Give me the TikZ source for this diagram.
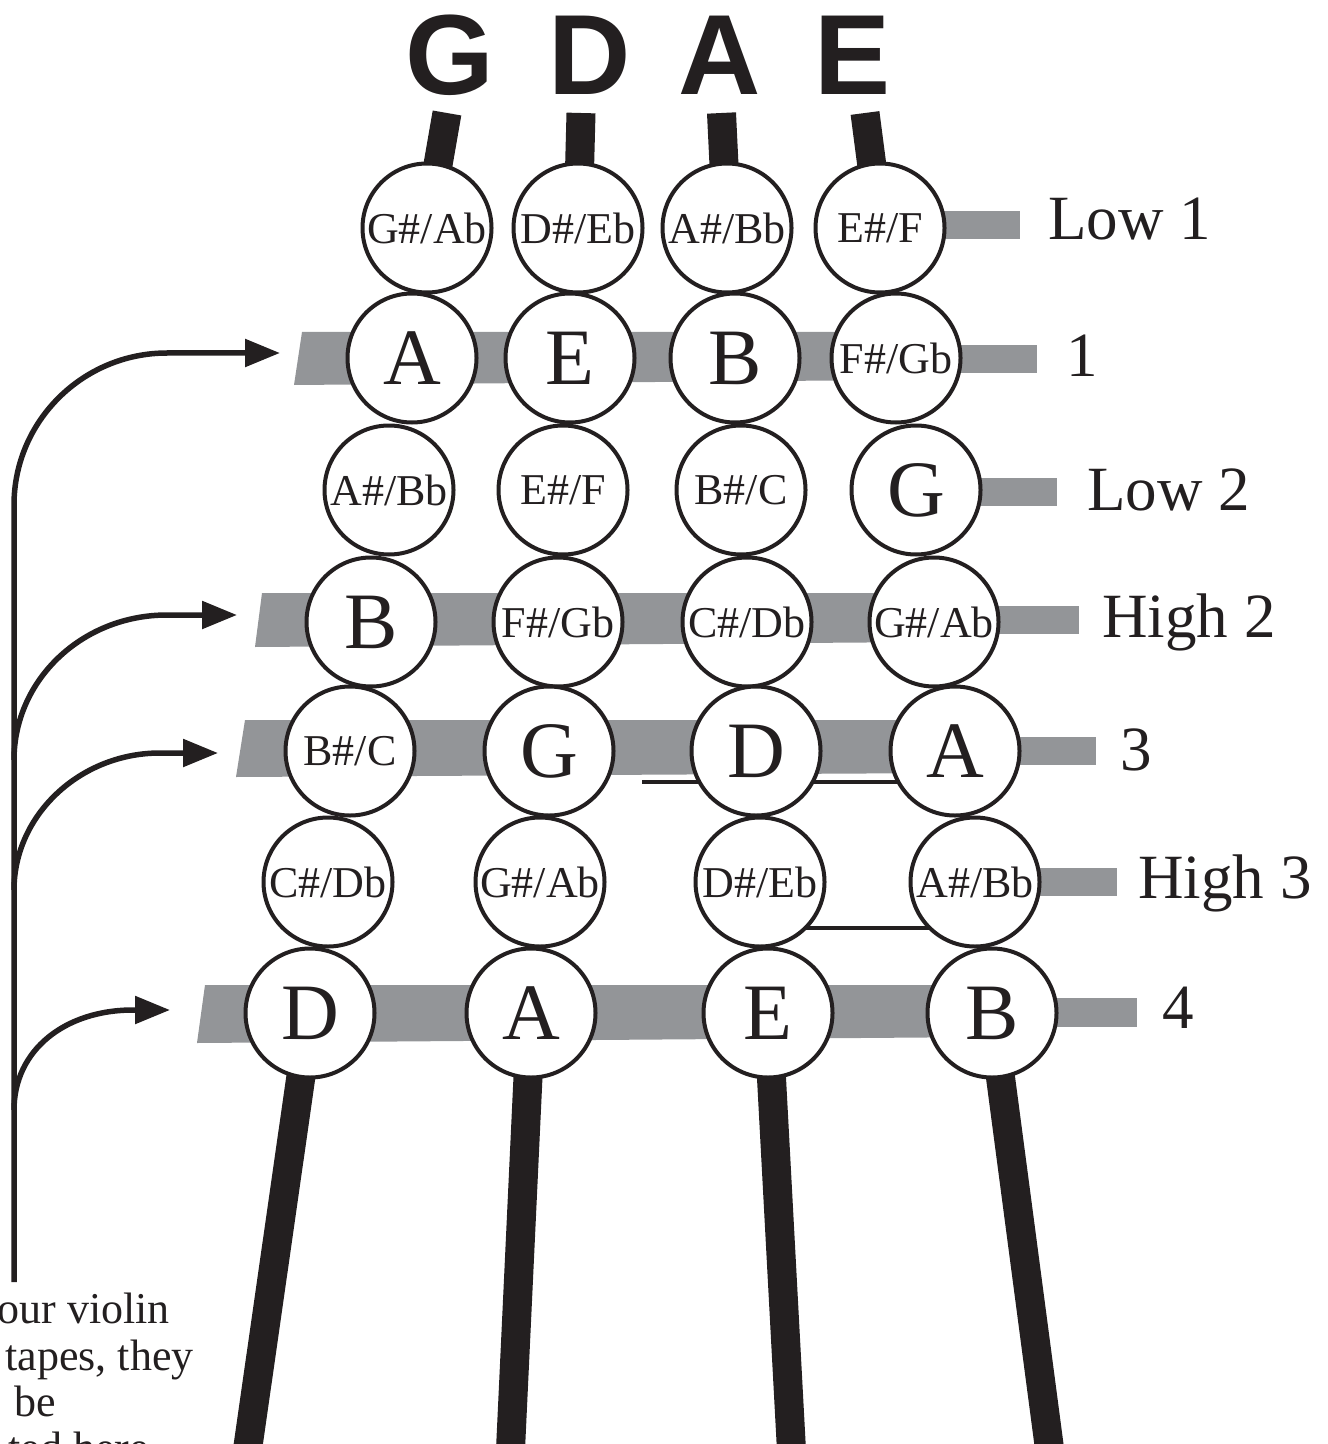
\documentclass[tikz,border=0pt]{standalone}
\usepackage{fontspec}
\setmainfont{Liberation Serif}
\newfontfamily\headfont{Liberation Sans}
\usetikzlibrary{arrows.meta,backgrounds}
\definecolor{ink}{RGB}{35,31,32}
\definecolor{tapegrey}{RGB}{147,149,152}
\begin{document}
\begin{tikzpicture}[x=0.5pt,y=-0.5pt,
  smallnote/.style={circle,draw=ink,fill=white,line width=2pt,minimum size=64.5pt,inner sep=0pt,text=ink,font=\fontsize{22}{24}\selectfont},
  bignote/.style={smallnote,font=\fontsize{40}{44}\selectfont},
  stringname/.style={anchor=base,inner sep=0pt,text=ink,font=\headfont\bfseries\fontsize{57}{60}\selectfont},
  tapelabel/.style={anchor=base west,inner sep=0pt,text=ink,font=\fontsize{31.5}{34}\selectfont},
  caption/.style={anchor=base west,inner sep=0pt,text=ink,font=\fontsize{22}{24}\selectfont},
  violinstring/.style={draw=ink,line width=14.5pt},
  tapebar/.style={fill=tapegrey},
  pitchline/.style={draw=ink,line width=2.25pt},
  guide/.style={draw=ink,line width=2.75pt},
  guidearrow/.style={guide,-{Triangle[length=17.5pt,width=13.5pt]}}]
\useasboundingbox (0,0) rectangle (1327,1444);
\clip (0,0) rectangle (1327,1444);
\node[stringname] (gname) at (450,95) {G};
\node[stringname] (dname) at (590,95) {D};
\node[stringname] (aname) at (720,95) {A};
\node[stringname] (ename) at (853,95) {E};
\coordinate (gtop) at (447,113);
\coordinate (dtop) at (581,113);
\coordinate (atop) at (721.5,113);
\coordinate (etop) at (865,113);
\coordinate (gfoot) at (246,1460);
\coordinate (dfoot) at (510,1460);
\coordinate (afoot) at (792,1460);
\coordinate (efoot) at (1051,1460);
\node[smallnote] (g0) at (427,228) {G\#/Ab};
\node[smallnote] (d0) at (578,228) {D\#/Eb};
\node[smallnote] (a0) at (727,228) {A\#/Bb};
\node[smallnote] (e0) at (880,228) {E\#/F};
\node[bignote] (g1) at (412,358) {A};
\node[bignote] (d1) at (570,358) {E};
\node[bignote] (a1) at (735,358) {B};
\node[smallnote] (e1) at (896,358) {F\#/Gb};
\node[smallnote] (g2) at (389,490) {A\#/Bb};
\node[smallnote] (d2) at (563,490) {E\#/F};
\node[smallnote] (a2) at (741,490) {B\#/C};
\node[bignote] (e2) at (916,490) {G};
\node[bignote] (g3) at (371,622) {B};
\node[smallnote] (d3) at (558,622) {F\#/Gb};
\node[smallnote] (a3) at (747,622) {C\#/Db};
\node[smallnote] (e3) at (934,622) {G\#/Ab};
\node[smallnote] (g4) at (350,751) {B\#/C};
\node[bignote] (d4) at (549,751) {G};
\node[bignote] (a4) at (756,751) {D};
\node[bignote] (e4) at (955,751) {A};
\node[smallnote] (g5) at (328,882) {C\#/Db};
\node[smallnote] (d5) at (540,882) {G\#/Ab};
\node[smallnote] (a5) at (760,882) {D\#/Eb};
\node[smallnote] (e5) at (975,882) {A\#/Bb};
\node[bignote] (g6) at (310,1013) {D};
\node[bignote] (d6) at (531,1013) {A};
\node[bignote] (a6) at (768,1013) {E};
\node[bignote] (e6) at (992,1013) {B};
\coordinate (hook) at (642,782);
\begin{scope}[on background layer]
\fill[tapebar] (880,211) rectangle (1020,239);
\fill[tapebar] (302,332) -- (896,332) -- (896,380) -- (294,385) -- cycle;
\fill[tapebar] (896,345) rectangle (1037,373);
\fill[tapebar] (916,478) rectangle (1057,506);
\fill[tapebar] (262,593) -- (934,593) -- (934,642) -- (255,647) -- cycle;
\fill[tapebar] (934,606) rectangle (1079,634);
\fill[tapebar] (245,720) -- (955,720) -- (955,773) -- (236,777) -- cycle;
\fill[tapebar] (955,737) rectangle (1096,765);
\fill[tapebar] (975,868) rectangle (1117,896);
\fill[tapebar] (205,985) -- (992,985) -- (992,1037) -- (197,1043) -- cycle;
\fill[tapebar] (992,998) rectangle (1137,1027);
\draw[violinstring] (gtop) -- (g0.center);
\draw[violinstring] (dtop) -- (d0.center);
\draw[violinstring] (atop) -- (a0.center);
\draw[violinstring] (etop) -- (e0.center);
\draw[violinstring] (g6.center) -- (gfoot);
\draw[violinstring] (d6.center) -- (dfoot);
\draw[violinstring] (a6.center) -- (afoot);
\draw[violinstring] (e6.center) -- (efoot);
\draw[pitchline] (hook) -- (hook -| e4.center);
\draw[pitchline] ([yshift=-23pt]a5.center) -- ([yshift=-23pt]e5.center);
\end{scope}
\node[tapelabel] (low1) at (1048,240) {Low 1};
\node[tapelabel] (one) at (1066,377) {1};
\node[tapelabel] (low2) at (1087,510) {Low 2};
\node[tapelabel] (high2) at (1102,637) {High 2};
\node[tapelabel] (three) at (1120,770) {3};
\node[tapelabel] (high3) at (1138,898) {High 3};
\node[tapelabel] (four) at (1162,1028) {4};
\coordinate (foot) at (14,1282);
\coordinate (bend1) at (14,505);
\coordinate (fork2) at (14,760);
\coordinate (fork3) at (14,890);
\coordinate (fork4) at (14,1110);
\coordinate (tip1) at (280,353);
\coordinate (tip2) at (237,615);
\coordinate (tip3) at (218,753);
\coordinate (tip4) at (170,1010);
\draw[guidearrow] (foot) -- (bend1) .. controls (14,421) and (83,353) .. (167,353) -- (tip1);
\draw[guidearrow] (fork2) .. controls (14,680) and (82,615) .. (167,615) -- (tip2);
\draw[guidearrow] (fork3) .. controls (14,815) and (80,753) .. (160,753) -- (tip3);
\draw[guidearrow] (fork4) .. controls (14,1050) and (65,1010) .. (133,1010) -- (tip4);
\node[caption] (cap1) at (-3,1323) {our violin};
\node[caption] (cap2) at (5,1370) {tapes, they};
\node[caption] (cap3) at (14,1416) {be};
\node[caption] (cap4) at (8,1462) {ted here};
\end{tikzpicture}
\end{document}
